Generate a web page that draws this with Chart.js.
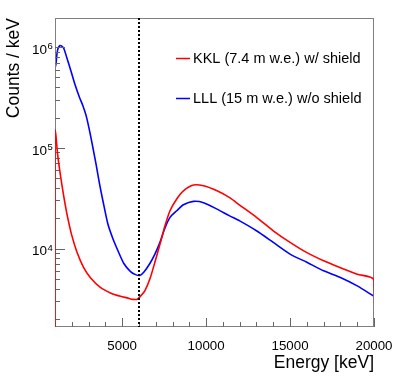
<!DOCTYPE html>
<html>
<head>
<meta charset="utf-8">
<script src="https://cdn.jsdelivr.net/npm/chart.js@4/dist/chart.umd.min.js"></script>
<style>
  html, body { margin: 0; padding: 0; background: #fff; }
  canvas { display: block; }
</style>
</head>
<body>
<canvas id="spectrum" width="399" height="388"></canvas>
<script>
// DATA
const kklLabel = "KKL (7.4 m w.e.) w/ shield";
const kklEnergy = [1000, 1000, 1050, 1150, 1250, 1400, 1550, 1750, 2000, 2300, 2700, 3100, 3700, 4300, 4900, 5300, 5650, 5900, 6050, 6350, 6650, 6950, 7250, 7550, 7850, 8250, 8650, 9250, 9850, 10650, 11400, 12000, 13000, 14000, 15000, 16000, 17000, 18000, 19000, 20000, 20000];
const kklCounts = [1, 150000, 135000, 88000, 65000, 44000, 31000, 20500, 13500, 9300, 6500, 5150, 4100, 3620, 3350, 3230, 3120, 3130, 3300, 3800, 4970, 7300, 11000, 16800, 23700, 31000, 37400, 42700, 42000, 37400, 32000, 27000, 20400, 15000, 11500, 9100, 7550, 6450, 5560, 4850, 1];

const lllLabel = "LLL (15 m w.e.) w/o shield";
const lllEnergy = [1000, 1050, 1150, 1300, 1500, 1700, 1950, 2200, 2450, 2650, 2850, 3050, 3250, 3450, 3650, 3850, 4150, 4450, 4750, 5100, 5500, 5800, 6050, 6300, 6650, 6950, 7250, 7550, 7850, 8250, 8650, 9250, 9850, 10650, 11400, 12000, 13000, 14000, 15000, 16000, 17000, 18000, 19000, 20000];
const lllCounts = [620000, 670000, 930000, 1040000, 990000, 790000, 580000, 420000, 320000, 265000, 210000, 150000, 102000, 68000, 44000, 30000, 17500, 12500, 9500, 7100, 5900, 5500, 5400, 5850, 7100, 8800, 11500, 16000, 20400, 23700, 27200, 29400, 28500, 24600, 21100, 18800, 15000, 11500, 8800, 7300, 6000, 5150, 4250, 3350];

const cutEnergy = 6000;
const xTickLabels = [5000, 10000, 15000, 20000];
const yTickLabels = [1e4, 1e5, 1e6];
const yTickExponents = ["4", "5", "6"];

const FONT = "'Liberation Sans', Arial, Helvetica, sans-serif";

function toPoints(xs, ys) {
  return xs.map((e, i) => ({ x: e, y: ys[i] }));
}

// frame, ticks, y labels, legend, cut line
const rootStyle = {
  id: "rootStyle",
  beforeDatasetDraw(chart, args) {
    // frame goes between blue (drawn first) and red (drawn on top)
    if (args.index !== 0) return;
    const { ctx, chartArea: a, scales: { x, y } } = chart;
    ctx.save();
    ctx.strokeStyle = "#808080";
    ctx.lineWidth = 1;
    ctx.strokeRect(a.left + 0.5, a.top + 0.5, a.width - 1, a.height - 1);

    ctx.strokeStyle = "#666";
    ctx.beginPath();
    for (let e = 1000; e <= 20000; e += 1000) {
      const px = Math.round(x.getPixelForValue(e)) + 0.5;
      const len = e % 5000 === 0 ? 9 : 5;
      ctx.moveTo(px, a.bottom);
      ctx.lineTo(px, a.bottom - len);
    }
    for (let d = 1000; d <= 1e6; d *= 10) {
      for (let m = 1; m <= 9; m++) {
        const v = d * m;
        if (v < y.min || v > y.max) continue;
        const py = Math.round(y.getPixelForValue(v)) + 0.5;
        const len = m === 1 ? 10 : 5;
        ctx.moveTo(a.left, py);
        ctx.lineTo(a.left + len, py);
      }
    }
    ctx.stroke();
    ctx.restore();
  },
  afterDatasetsDraw(chart) {
    const { ctx, chartArea: a, scales: { x, y } } = chart;
    ctx.save();
    // vertical dotted line
    const cx = Math.round(x.getPixelForValue(cutEnergy));
    ctx.strokeStyle = "#000";
    ctx.lineWidth = 2;
    ctx.setLineDash([2, 2]);
    ctx.beginPath();
    ctx.moveTo(cx, a.top);
    ctx.lineTo(cx, a.bottom);
    ctx.stroke();
    ctx.setLineDash([]);

    // y tick labels as 10^n
    ctx.fillStyle = "#000";
    yTickLabels.forEach((v, i) => {
      const py = y.getPixelForValue(v);
      ctx.textAlign = "right";
      ctx.textBaseline = "middle";
      ctx.font = "13.5px " + FONT;
      ctx.fillText("10", 47, py + 3);
      ctx.textAlign = "left";
      ctx.textBaseline = "alphabetic";
      ctx.font = "9.5px " + FONT;
      ctx.fillText(yTickExponents[i], 47.5, py + 2);
    });

    // legend
    ctx.font = "14.5px " + FONT;
    ctx.textBaseline = "middle";
    ctx.textAlign = "left";
    const rows = [58, 98];
    chart.data.datasets.forEach((ds, i) => {
      const ly = rows[i] + 0.5;
      ctx.strokeStyle = ds.borderColor;
      ctx.lineWidth = 1.5;
      ctx.beginPath();
      ctx.moveTo(176, ly);
      ctx.lineTo(190, ly);
      ctx.stroke();
      ctx.fillStyle = "#000";
      ctx.fillText(ds.label, 193, ly);
    });
    ctx.restore();
  },
};

const spectrum = document.getElementById("spectrum");

new Chart(spectrum, {
  type: "line",
  data: {
    datasets: [
      {
        label: kklLabel,
        data: toPoints(kklEnergy, kklCounts),
        borderColor: "#ff0000",
        borderWidth: 1.6,
        pointRadius: 0,
        tension: 0.25,
        fill: false,
      },
      {
        label: lllLabel,
        data: toPoints(lllEnergy, lllCounts),
        borderColor: "#0000ff",
        borderWidth: 1.6,
        pointRadius: 0,
        tension: 0.25,
        fill: false,
      },
    ],
  },
  options: {
    responsive: false,
    animation: false,
    events: [],
    layout: {
      padding: { top: 18, right: 25, left: 0, bottom: 0 },
    },
    plugins: {
      legend: { display: false },
      tooltip: { enabled: false },
    },
    scales: {
      x: {
        type: "linear",
        min: 1000,
        max: 20000,
        afterFit(scale) {
          scale.height = 61;
        },
        afterBuildTicks(scale) {
          scale.ticks = xTickLabels.map((v) => ({ value: v }));
        },
        grid: { display: false },
        border: { display: false },
        ticks: {
          color: "#000",
          padding: 3,
          maxRotation: 0,
          autoSkip: false,
          font: { family: FONT, size: 13.3 },
          callback: (v) => String(v),
        },
        title: {
          display: true,
          text: "Energy [keV]",
          align: "end",
          color: "#000",
          font: { family: FONT, size: 17.5 },
          padding: { top: 0, bottom: 14 },
        },
      },
      y: {
        type: "logarithmic",
        min: 1660,
        max: 1950000,
        afterFit(scale) {
          scale.width = 55;
        },
        afterBuildTicks(scale) {
          scale.ticks = yTickLabels.map((v) => ({ value: v }));
        },
        grid: { display: false },
        border: { display: false },
        ticks: { display: false },
        title: {
          display: true,
          text: "Counts / keV",
          align: "end",
          color: "#000",
          font: { family: FONT, size: 17.5 },
          padding: { top: 4, bottom: 0 },
        },
      },
    },
  },
  plugins: [rootStyle],
});
</script>
</body>
</html>
